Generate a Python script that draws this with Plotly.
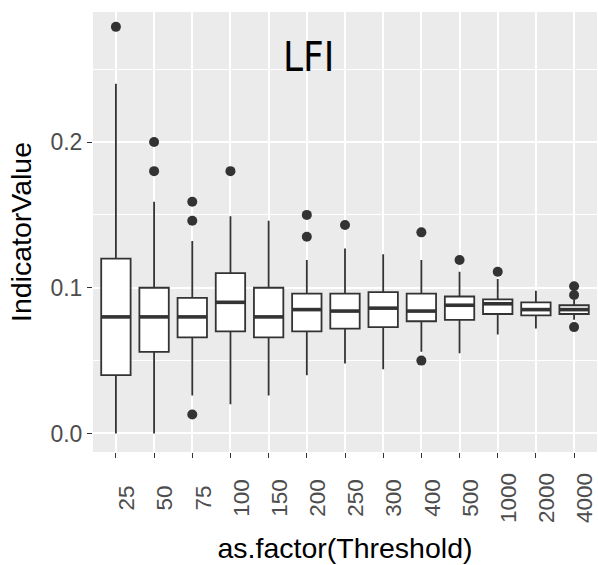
import plotly.graph_objects as go

categories = ["25", "50", "75", "100", "150", "200", "250", "300", "400", "500", "1000", "2000", "4000"]
lower_whisker = [0.000, 0.000, 0.026, 0.020, 0.026, 0.040, 0.048, 0.044, 0.056, 0.055, 0.068, 0.072, 0.078]
q1 = [0.040, 0.056, 0.066, 0.070, 0.066, 0.070, 0.072, 0.073, 0.077, 0.078, 0.082, 0.081, 0.082]
median = [0.080, 0.080, 0.080, 0.090, 0.080, 0.085, 0.084, 0.086, 0.084, 0.088, 0.089, 0.085, 0.085]
q3 = [0.120, 0.100, 0.093, 0.110, 0.100, 0.096, 0.096, 0.097, 0.096, 0.094, 0.092, 0.090, 0.088]
upper_whisker = [0.240, 0.159, 0.132, 0.149, 0.146, 0.119, 0.127, 0.123, 0.119, 0.111, 0.106, 0.098, 0.092]
outliers = [
    [0.279],
    [0.200, 0.180],
    [0.159, 0.146, 0.013],
    [0.180],
    [],
    [0.150, 0.135],
    [0.143],
    [],
    [0.138, 0.050],
    [0.119],
    [0.111],
    [],
    [0.101, 0.095, 0.073],
]
label_text = "LFI"
label_pos = (6.05, 0.258)

positions = list(range(1, len(categories) + 1))
box_w = 0.77
dark = "#333333"

# pad labels with non-breaking spaces so the rotated labels are centred
maxlen = max(len(c) for c in categories)
tick_text = [c + "\u00a0" * (maxlen - len(c)) for c in categories]

fig = go.Figure()
fig.add_trace(go.Box(
    x=positions, q1=q1, median=median, q3=q3,
    lowerfence=lower_whisker, upperfence=upper_whisker,
    width=box_w, whiskerwidth=0, fillcolor="white",
    line=dict(color=dark, width=1.8), boxpoints=False,
    showlegend=False, hoverinfo="skip",
))

mx, my = [], []
for p, m in zip(positions, median):
    mx += [p - box_w / 2, p + box_w / 2, None]
    my += [m, m, None]
fig.add_trace(go.Scatter(x=mx, y=my, mode="lines", line=dict(color=dark, width=3.6),
                         showlegend=False, hoverinfo="skip"))

ox, oy = [], []
for p, outs in zip(positions, outliers):
    for v in outs:
        ox.append(p)
        oy.append(v)
fig.add_trace(go.Scatter(x=ox, y=oy, mode="markers",
                         marker=dict(color=dark, size=10, line=dict(width=0)),
                         showlegend=False, hoverinfo="skip"))

fig.add_annotation(x=label_pos[0], y=label_pos[1], text=label_text, showarrow=False,
                   font=dict(family="Liberation Sans Narrow, DejaVu Sans Condensed, Liberation Sans, Arial",
                             size=40, color="black"))

fig.update_layout(
    width=598, height=565,
    margin=dict(l=93, r=1, t=12, b=113, autoexpand=False),
    paper_bgcolor="white", plot_bgcolor="#EBEBEB",
    font=dict(family="Liberation Sans, Arial", color="black"),
)
fig.update_xaxes(
    range=[0.4, 13.6], tickvals=positions, ticktext=tick_text,
    tickangle=-90, tickfont=dict(size=22.5, color="#4D4D4D"),
    ticks="outside", ticklen=5, tickwidth=1, tickcolor=dark,
    ticklabelshift=11, ticklabelstandoff=6, ticklabeloverflow="allow",
    automargin=False,
    showgrid=True, gridcolor="white", gridwidth=1.6, zeroline=False, showline=False,
    title=dict(text="as.factor(Threshold)", font=dict(size=28.5, color="black"), standoff=15),
)
fig.update_yaxes(
    range=[-0.0127, 0.2892], tickvals=[0.0, 0.1, 0.2], ticktext=["0.0", "0.1", "0.2"],
    tickfont=dict(size=23, color="#4D4D4D"),
    ticks="outside", ticklen=5, tickwidth=1, tickcolor=dark,
    automargin=False,
    showgrid=True, gridcolor="white", gridwidth=1.6, zeroline=False, showline=False,
    minor=dict(tickvals=[0.05, 0.15, 0.25], showgrid=True, gridcolor="white", gridwidth=0.8, ticks=""),
    title=dict(text="IndicatorValue", font=dict(size=28.5, color="black"), standoff=10),
)

fig.write_html("out.html")
